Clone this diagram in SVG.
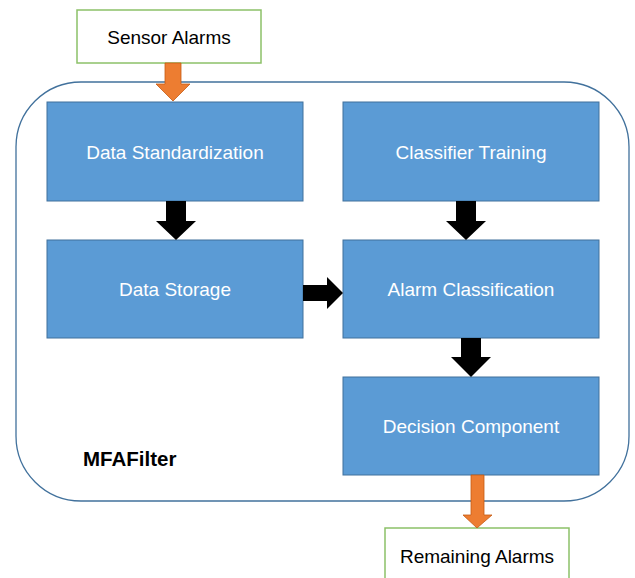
<svg xmlns="http://www.w3.org/2000/svg" width="635" height="578" viewBox="0 0 635 578">
  <style>
    .io { fill: #ffffff; stroke: #8cc168; stroke-width: 1.5; }
    .io-text { font-family: "Liberation Sans", Arial, sans-serif; font-size: 19px; fill: #000000; text-anchor: middle; }
    .step { fill: #5b9bd5; stroke: #41719c; stroke-width: 1; }
    .step-text { font-family: "Liberation Sans", Arial, sans-serif; font-size: 19px; fill: #ffffff; text-anchor: middle; }
    .frame { fill: none; stroke: #41719c; stroke-width: 1.3; }
    .flow { fill: #000000; }
    .io-flow { fill: #ed7d31; stroke: #c55a11; stroke-width: 0.8; }
  </style>

  <!-- system boundary -->
  <g id="mfafilter">
    <rect class="frame" x="16" y="82" width="613" height="419" rx="65" ry="65"/>
    <text x="83" y="466" style="font-family: 'Liberation Sans', Arial, sans-serif; font-size: 20.5px; font-weight: bold; fill: #000000;">MFAFilter</text>
  </g>

  <g id="sensor-alarms">
    <rect class="io" x="77" y="10" width="184" height="53"/>
    <text class="io-text" x="169" y="44">Sensor Alarms</text>
  </g>

  <g id="remaining-alarms">
    <rect class="io" x="385" y="528" width="184" height="60"/>
    <text class="io-text" x="477" y="563">Remaining Alarms</text>
  </g>

  <g id="data-standardization">
    <rect class="step" x="47" y="102" width="256" height="99"/>
    <text class="step-text" x="175" y="159">Data Standardization</text>
  </g>

  <g id="classifier-training">
    <rect class="step" x="343" y="102" width="256" height="99"/>
    <text class="step-text" x="471" y="159">Classifier Training</text>
  </g>

  <g id="data-storage">
    <rect class="step" x="47" y="240" width="256" height="98"/>
    <text class="step-text" x="175" y="296">Data Storage</text>
  </g>

  <g id="alarm-classification">
    <rect class="step" x="343" y="240" width="256" height="98"/>
    <text class="step-text" x="471" y="296">Alarm Classification</text>
  </g>

  <g id="decision-component">
    <rect class="step" x="343" y="377" width="256" height="98"/>
    <text class="step-text" x="471" y="433">Decision Component</text>
  </g>

  <!-- block arrows between components -->
  <g id="connectors">
    <polygon class="io-flow" points="165,63 181,63 181,84 190,84 173,101 156,84 165,84"/>
    <polygon class="flow" points="166,201 186,201 186,221 196,221 176,240 156,221 166,221"/>
    <polygon class="flow" points="456,201 476,201 476,221 486,221 466,240 446,221 456,221"/>
    <polygon class="flow" points="303,285 327,285 327,277 343,293 327,309 327,301 303,301"/>
    <polygon class="flow" points="461,338 481,338 481,357 491,357 471,377 451,357 461,357"/>
    <polygon class="io-flow" points="471,475 484,475 484,515 492,515 477,528 463,515 471,515"/>
  </g>
</svg>
